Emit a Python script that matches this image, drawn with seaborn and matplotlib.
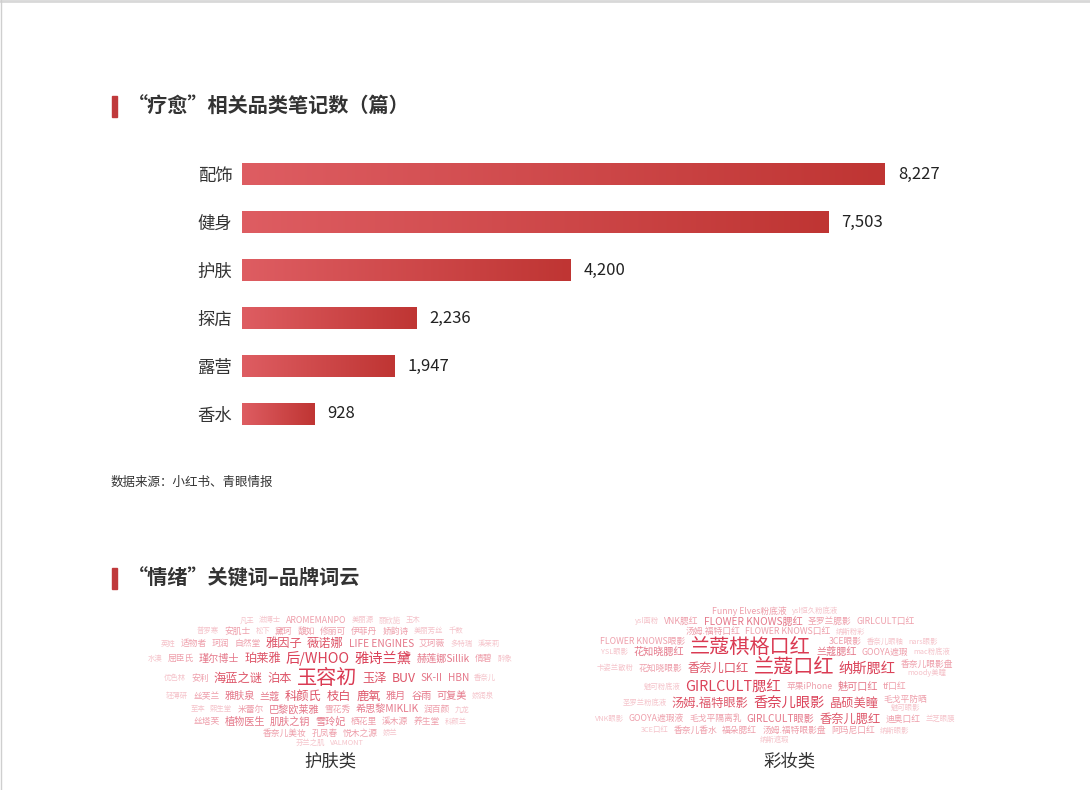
import numpy as np
import pandas as pd
import matplotlib
matplotlib.use("Agg")
import matplotlib.pyplot as plt
import seaborn as sns
from matplotlib.colors import LinearSegmentedColormap

# bar chart data
categories = ["配饰", "健身", "护肤", "探店", "露营", "香水"]
counts = [8227, 7503, 4200, 2236, 1947, 928]

# word cloud data: rows of items; an item is (word, weight) or a stack (list of sub-rows)
skin_rows = [
    [("凡王", 1), ("滋博士", 1), ("AROMEMANPO", 2), ("美丽源", 1), ("丽欣施", 1), ("玉木", 1)],
    [("普罗寒", 1), ("安肌士", 2), ("松下", 1), ("黛珂", 2), ("馥如", 2), ("修丽可", 2), ("伊菲丹", 2), ("娇韵诗", 2), ("美丽芳丝", 1), ("千数", 1)],
    [("英姓", 1), ("适物者", 2), ("珂润", 2), ("自然堂", 2), ("雅因子", 4), ("薇诺娜", 4), ("LIFE ENGINES", 3), ("艾珂薇", 2), ("多特瑞", 1), ("溪茉莉", 1)],
    [("水澳", 1), ("屈臣氏", 2), ("瑾尔博士", 3), ("珀莱雅", 4), ("后/WHOO", 5), ("雅诗兰黛", 5), ("赫莲娜Sillik", 3), ("倩碧", 2), ("醉象", 1)],
    [("优色林", 1), ("安利", 2), ("海蓝之谜", 4), ("泊本", 4), ("玉容初", 6), ("玉泽", 4), ("BUV", 4), ("SK-II", 3), ("HBN", 3), ("香奈儿", 1)],
    [("轻薄研", 1), ("丝芙兰", 2), ("雅肤泉", 3), ("兰蔻", 3), ("科颜氏", 4), ("枝白", 4), ("鹿氧", 4), ("雅月", 3), ("谷雨", 3), ("可复美", 3), ("娇润泉", 1)],
    [("至本", 1), ("熙生堂", 1), ("米蕾尔", 2), ("巴黎欧莱雅", 3), ("雪花秀", 2), ("希思黎MIKLIK", 3), ("润百颜", 2), ("九龙", 1)],
    [("丝塔芙", 2), ("植物医生", 3), ("肌肤之钥", 3), ("雪玲妃", 3), ("栖花里", 2), ("溪木源", 2), ("养生堂", 2), ("科颜兰", 1)],
    [("香奈儿美妆", 2), ("孔凤春", 2), ("悦木之源", 2), ("娇兰", 1)],
    [("芬兰之肌", 1), ("VALMONT", 1)],
]
makeup_rows = [
    [("Funny Elves粉底液", 2), ("ysl恒久粉底液", 1)],
    [("ysl面粉", 1), ("VNK腮红", 2), ("FLOWER KNOWS腮红", 3), ("圣罗兰腮影", 2), ("GIRLCULT口红", 2)],
    [("汤姆.福特口红", 2), ("FLOWER KNOWS口红", 2), ("纳斯粉彩", 1)],
    [[[("FLOWER KNOWS眼影", 2)], [("YSL眼影", 1), ("花知晓腮红", 3)]],
     ("兰蔻棋格口红", 6),
     [[("3CE眼影", 2), ("香奈儿眼釉", 1), ("nars眼影", 1)], [("兰蔻腮红", 3), ("GOOYA遮瑕", 2), ("mac粉底液", 1)]]],
    [("卡姿兰散粉", 1), ("花知晓眼影", 2), ("香奈儿口红", 4), ("兰蔻口红", 6), ("纳斯腮红", 5),
     [[("香奈儿眼影盘", 2)], [("moody美瞳", 1)]]],
    [("魅可粉底液", 1), ("GIRLCULT腮红", 5), ("苹果iPhone", 2), ("魅可口红", 3), ("tf口红", 2)],
    [("圣罗兰粉底液", 1), ("汤姆.福特眼影", 4), ("香奈儿眼影", 5), ("晶硕美瞳", 4),
     [[("毛戈平防晒", 2)], [("魅可眼影", 1)]]],
    [("VNK眼影", 1), ("GOOYA遮瑕液", 2), ("毛戈平隔离乳", 2), ("GIRLCULT眼影", 3), ("香奈儿腮红", 4), ("迪奥口红", 2), ("兰芝眼膜", 1)],
    [("3CE口红", 1), ("香奈儿香水", 2), ("福朵腮红", 2), ("汤姆.福特眼影盘", 2), ("阿玛尼口红", 2), ("纳斯眼影", 1)],
    [("纳斯遮瑕", 1)],
]

sizes = {1: 5.3, 2: 6.3, 3: 7.3, 4: 8.8, 5: 10.3, 6: 14.5}
shades = {1: "#f5c3ca", 2: "#ee9fab", 3: "#e5788a", 4: "#de5669", 5: "#db4259", 6: "#da3a52"}

sns.set_theme(style="white")
plt.rcParams["font.family"] = ["Noto Sans CJK SC", "DejaVu Sans"]

fig = plt.figure(figsize=(10.9, 7.9), dpi=100)
fig.patch.set_facecolor("white")

# pixel-space overlay for titles and word clouds
pax = fig.add_axes([0, 0, 1, 1])
pax.set_xlim(0, 1090)
pax.set_ylim(790, 0)
pax.axis("off")

# bar chart
ax = fig.add_axes([242 / 1090, 1 - 438 / 790, 758 / 1090, 288 / 790])
df = pd.DataFrame({"cat": categories, "n": counts})
sns.barplot(data=df, x="n", y="cat", ax=ax, width=0.46, color="#cc4447", orient="h")
xmax = 9700
grad = np.linspace(0, 1, 256).reshape(1, -1)
cmap = LinearSegmentedColormap.from_list("bar", ["#de5d62", "#bf3533"])
for p in ax.patches:
    x0, y0, w, h = p.get_x(), p.get_y(), p.get_width(), p.get_height()
    im = ax.imshow(grad, extent=[x0, x0 + w, y0 + h, y0], cmap=cmap,
                   aspect="auto", zorder=3)
    im.set_clip_path(p)
ax.set_xlim(0, xmax)
ax.set_ylim(5.5, -0.5)
for i, v in enumerate(counts):
    ax.text(v + xmax * 13 / 758, i, f"{v:,}", va="center", ha="left",
            fontsize=12, color="#222222")
sns.despine(ax=ax, left=True, bottom=True)
ax.set_xticks([])
ax.set_xlabel("")
ax.set_ylabel("")
ax.tick_params(axis="y", length=0, pad=7, labelsize=12.5, labelcolor="#333333")

# titles
for ty, title in [(106, "“疗愈”相关品类笔记数（篇）"), (578, "“情绪”关键词–品牌词云")]:
    pax.add_patch(plt.Rectangle((112, ty - 10), 5, 21, color="#c0393b"))
    pax.text(128, ty, title, fontsize=14.5, fontweight="bold", color="#333333",
             va="center", ha="left")
pax.text(111, 482, "数据来源：小红书、青眼情报", fontsize=9, color="#333333",
         va="center", ha="left")

# frame edges
pax.plot([0, 1090], [1, 1], color="#d8d8d8", lw=2)
pax.plot([0.5, 0.5], [0, 790], color="#cfcfcf", lw=1)

renderer = fig.canvas.get_renderer()
GAP = 5


def make_line(words, lead, pad):
    parts, x, h = [], 0.0, 0.0
    for word, wt in words:
        t = pax.text(0, 0, word, fontsize=sizes[wt], color=shades[wt],
                     ha="left", va="center")
        w = t.get_window_extent(renderer).width
        parts.append((t, x, 0.0))
        x += w + GAP
        h = max(h, sizes[wt] * 100 / 72 * lead + pad)
    return parts, x - GAP, h


def make_item(item, lead, pad):
    if isinstance(item, tuple):
        return make_line([item], lead, pad)
    lines = [make_line(r, lead, pad) for r in item]
    width = max(l[1] for l in lines)
    height = sum(l[2] for l in lines)
    parts, y = [], -height / 2
    for lp, lw, lh in lines:
        for t, dx, dy in lp:
            parts.append((t, dx + (width - lw) / 2, y + lh / 2))
        y += lh
    return parts, width, height


def cloud(rows, cx, top, lead, pad):
    y = top
    for row in rows:
        items = [make_item(it, lead, pad) for it in row]
        rh = max(i[2] for i in items)
        total = sum(i[1] for i in items) + GAP * (len(items) - 1)
        x = cx - total / 2
        yc = y + rh / 2
        for parts, w, h in items:
            for t, dx, dy in parts:
                t.set_position((x + dx, yc + dy))
            x += w + GAP
        y += rh


cloud(skin_rows, 330, 615, 1.0, 2)
cloud(makeup_rows, 775, 606, 1.0, 1)

pax.text(330, 762, "护肤类", fontsize=12.5, color="#333333", ha="center", va="center")
pax.text(790, 762, "彩妆类", fontsize=12.5, color="#333333", ha="center", va="center")

fig.savefig("out.png", dpi=100, facecolor="white")
